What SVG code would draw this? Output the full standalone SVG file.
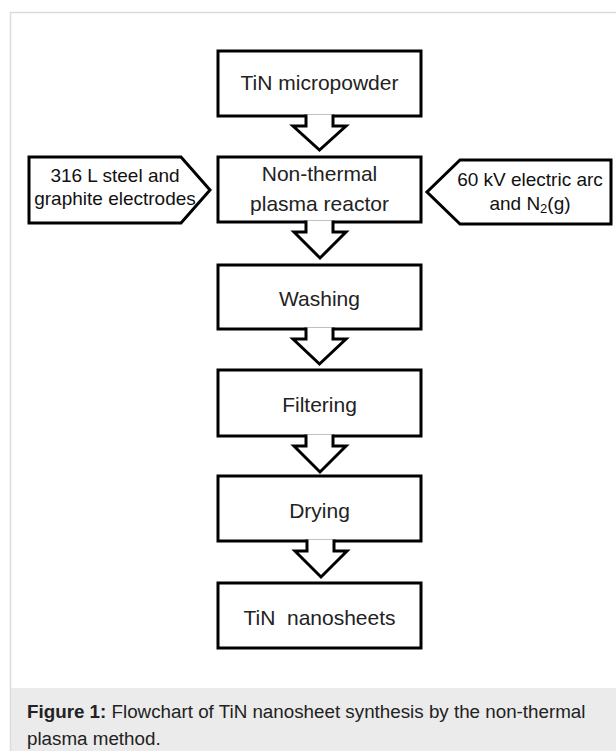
<svg xmlns="http://www.w3.org/2000/svg" width="616" height="751" viewBox="0 0 616 751">
<style>
.box{fill:#fff;stroke:#000;stroke-width:3;stroke-linejoin:miter}
.arr{fill:#fff;stroke:#000;stroke-width:3;stroke-linejoin:miter}
.t{font-family:"Liberation Sans",Arial,sans-serif;font-size:21px;fill:#222;text-anchor:middle}
.s{font-family:"Liberation Sans",Arial,sans-serif;font-size:19px;fill:#111;text-anchor:middle}
.cap{font-family:"Liberation Sans",Arial,sans-serif;font-size:18.8px;fill:#222}
</style>
<rect x="0" y="0" width="616" height="751" fill="#fff"/>
<rect x="11" y="688" width="605" height="63" fill="#ebebeb"/>
<path d="M10.5,751 V12.5 H616" fill="none" stroke="#dcdcdc" stroke-width="1.5"/>
<g id="n1"><rect class="box" x="218" y="51" width="203" height="65"/><text class="t" x="319.5" y="90">TiN micropowder</text></g>
<g id="n2"><rect class="box" x="218" y="157" width="203" height="65"/><text class="t" x="319.5" y="181">Non-thermal</text><text class="t" x="319.5" y="211">plasma reactor</text></g>
<g id="n3"><rect class="box" x="218" y="265" width="203" height="64"/><text class="t" x="319.5" y="306">Washing</text></g>
<g id="n4"><rect class="box" x="218" y="370" width="203" height="66"/><text class="t" x="319.5" y="412">Filtering</text></g>
<g id="n5"><rect class="box" x="218" y="476" width="203" height="65"/><text class="t" x="319.5" y="518">Drying</text></g>
<g id="n6"><rect class="box" x="218" y="583" width="203" height="65"/><text class="t" x="319.5" y="625" xml:space="preserve">TiN  nanosheets</text></g>
<g id="n7"><path class="box" d="M29,157 H181 L210,190 L181,223 H29 Z"/><text class="s" x="115" y="182">316 L steel and</text><text class="s" x="115" y="205">graphite electrodes</text></g>
<g id="n8"><path class="box" d="M611,160 H460 L427,192 L460,224 H611 Z"/><text class="s" x="530" y="186">60 kV electric arc</text><text class="s" x="530" y="210">and N<tspan font-size="13" dy="3">2</tspan><tspan dy="-3">(g)</tspan></text></g>
<g id="connectors">
<path class="arr" d="M306,114.5 V126 H293 L319.5,150 L346,126 H333 V114.5"/>
<path class="arr" d="M306,220.5 V232 H294 L320,258 L346,232 H333 V220.5"/>
<path class="arr" d="M306,327.5 V339 H293 L319.5,364 L346,339 H333 V327.5"/>
<path class="arr" d="M306,434.5 V446 H294 L320,472 L346,446 H333 V434.5"/>
<path class="arr" d="M307,539.5 V551 H295 L321,577 L347,551 H334 V539.5"/>
</g>
<text class="cap" x="27" y="718"><tspan font-weight="bold">Figure 1:</tspan> Flowchart of TiN nanosheet synthesis by the non-thermal</text>
<text class="cap" x="27" y="745">plasma method.</text>
</svg>
